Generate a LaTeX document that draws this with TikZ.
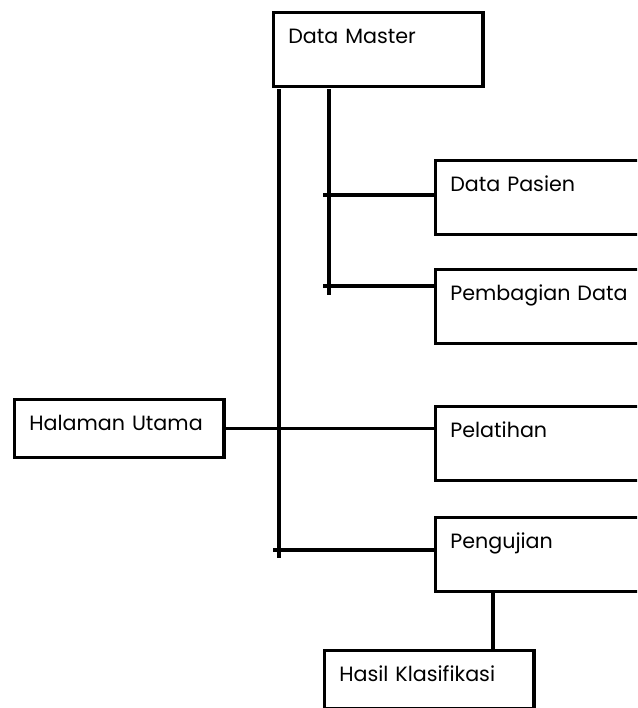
\documentclass[tikz,border=0pt]{standalone}
\usepackage{fontspec}
\setmainfont{Poppins}
\usetikzlibrary{positioning}

\begin{document}
\begin{tikzpicture}[x=0.75pt,y=-0.75pt]
\tikzstyle{box}=[draw,line width=2.5pt,anchor=north west,
inner xsep=11pt,inner ysep=6pt,text width=135pt,align=left,
text height=17pt,text depth=26.5pt,
font=\fontsize{15.5}{18}\selectfont]
\tikzstyle{flat}=[box,text depth=14.5pt]
\tikzstyle{link}=[line width=2.5pt]
\useasboundingbox (0,0) rectangle (637,708);
\clip (0,0) rectangle (637,708);

\node[box] at (272,11) (0) {Data Master};
\node[box] at (434,159) (1) {Data Pasien};
\node[box] at (434,268) (2) {Pembagian Data};
\node[flat] at (13,398) (3) {Halaman Utama};
\node[box] at (434,405) (4) {Pelatihan};
\node[box] at (434,516) (5) {Pengujian};
\node[flat] at (323,649) (6) {Hasil Klasifikasi};

\coordinate (0c1) at (279,89);
\coordinate (0c2) at (279,558);
\coordinate (0c3) at (329,89);
\coordinate (0c4) at (329,295);
\coordinate (1c1) at (323,195);
\coordinate (2c1) at (323,286);
\coordinate (5c1) at (273,550);
\coordinate (6c1) at (493,600);

\draw[link] (0c1) -- (0c2) ;
\draw[link] (0c3) -- (0c4) ;
\draw[link] (1c1) -- (1c1 -| 1.west) ;
\draw[link] (2c1) -- (2c1 -| 2.west) ;
\draw[link] (3.east) -- (3.east -| 4.west) ;
\draw[link] (5c1) -- (5c1 -| 5.west) ;
\draw[link] (6c1 |- 5.south) -- (6c1 |- 6.north) ;

\end{tikzpicture}
\end{document}
